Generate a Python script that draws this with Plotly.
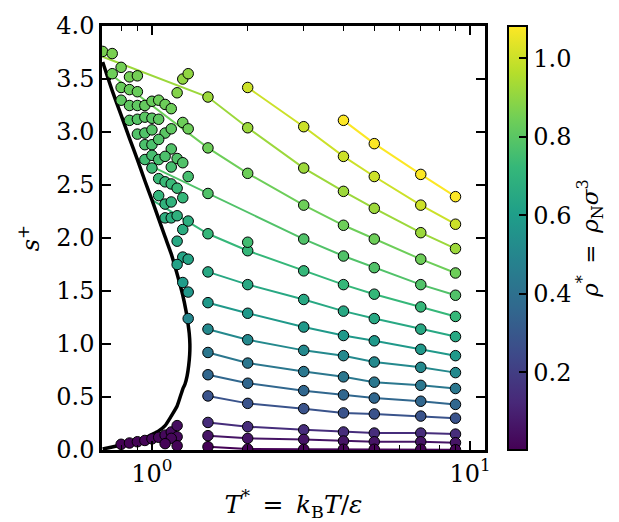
import plotly.graph_objects as go
from plotly.colors import sample_colorscale

# colour range of the density scale
RHO_MIN, RHO_MAX = 0.002, 1.082

# ---- coexistence curve (liquid branch down to the critical nose, then vapour branch)
sat_T = [0.70, 0.75, 0.80, 0.85, 0.90, 0.95, 1.00, 1.05, 1.10, 1.15, 1.20, 1.25, 1.28,
         1.30, 1.31, 1.316, 1.314, 1.305, 1.29, 1.27, 1.25, 1.20, 1.15, 1.10, 1.05,
         1.00, 0.95, 0.90, 0.85, 0.80, 0.75, 0.70]
sat_s = [3.66, 3.39, 3.16, 2.94, 2.74, 2.54, 2.36, 2.18, 2.01, 1.85, 1.66, 1.46, 1.31,
         1.18, 1.10, 1.00, 0.90, 0.80, 0.70, 0.62, 0.575, 0.415, 0.32, 0.23, 0.18,
         0.146, 0.113, 0.09, 0.066, 0.047, 0.028, 0.009]

# ---- isochores at supercritical temperatures
iso_rho = [1.08, 1.0, 0.92, 0.84, 0.78, 0.72, 0.65, 0.58, 0.51, 0.43, 0.36, 0.28, 0.14, 0.06, 0.005]
iso_T = [
    [4, 5, 7, 9],
    [2, 3, 4, 5, 7, 9],
    [1.5, 2, 3, 4, 5, 7, 9],
    [1.5, 2, 3, 4, 5, 7, 9],
    [1.5, 3, 4, 5, 7, 9],
    [1.5, 2, 3, 4, 5, 7, 9],
    [1.5, 2, 3, 4, 5, 7, 9],
    [1.5, 2, 3, 4, 5, 7, 9],
    [1.5, 2, 3, 4, 5, 7, 9],
    [1.5, 2, 3, 4, 5, 7, 9],
    [1.5, 2, 3, 4, 5, 7, 9],
    [1.5, 2, 3, 4, 5, 7, 9],
    [1.5, 2, 3, 4, 5, 7, 9],
    [1.5, 2, 3, 4, 5, 7, 9],
    [1.5, 2, 3, 4, 5, 7, 9],
]
iso_s = [
    [3.11, 2.89, 2.60, 2.39],
    [3.42, 3.05, 2.77, 2.58, 2.31, 2.13],
    [3.33, 3.04, 2.66, 2.44, 2.28, 2.05, 1.90],
    [2.85, 2.61, 2.31, 2.12, 1.99, 1.80, 1.67],
    [2.42, 1.99, 1.83, 1.72, 1.56, 1.46],
    [2.04, 1.88, 1.69, 1.56, 1.47, 1.35, 1.26],
    [1.68, 1.56, 1.42, 1.31, 1.24, 1.14, 1.07],
    [1.39, 1.29, 1.16, 1.08, 1.03, 0.95, 0.89],
    [1.14, 1.04, 0.94, 0.89, 0.83, 0.78, 0.73],
    [0.92, 0.82, 0.74, 0.69, 0.64, 0.61, 0.58],
    [0.71, 0.63, 0.56, 0.52, 0.49, 0.46, 0.43],
    [0.51, 0.44, 0.39, 0.35, 0.34, 0.32, 0.30],
    [0.26, 0.22, 0.19, 0.17, 0.16, 0.16, 0.15],
    [0.135, 0.11, 0.10, 0.085, 0.078, 0.078, 0.069],
    [0.031, 0.009, 0.007, 0.007, 0.007, 0.007, 0.003],
]
# where the liquid isochores leave the coexistence curve (None: curve starts at first point)
iso_T0 = [None, None, 0.70, 0.745, 0.90, 1.00, None, None, None, None, None, None, None, None, None]
iso_s0 = [None, None, 3.71, 3.54, 2.74, 2.36, None, None, None, None, None, None, None, None, None]

# ---- extra state points near the liquid branch
liq_T = [0.70, 0.75, 0.80, 0.75, 0.85, 0.90, 1.25, 1.30, 1.20, 0.80, 0.85, 0.90, 0.80, 0.85,
         0.90, 0.95, 1.00, 1.05, 1.10, 1.15, 0.85, 0.90, 0.95, 1.00, 1.05, 1.10, 1.15, 1.25,
         1.30, 0.90, 0.95, 1.00, 0.95, 1.00, 1.05, 1.15, 0.95, 1.00, 1.05, 1.10, 1.15, 1.20,
         1.25, 1.00, 1.05, 1.10, 1.15, 1.20, 1.30, 1.05, 1.10, 1.15, 1.25, 1.10, 1.15, 1.20,
         1.25, 1.30, 1.20, 1.25, 1.30, 1.20, 1.25, 1.30, 1.30, 2.0]
liq_s = [3.76, 3.74, 3.61, 3.55, 3.52, 3.53, 3.50, 3.55, 3.37, 3.42, 3.40, 3.38, 3.30, 3.25,
         3.25, 3.25, 3.29, 3.30, 3.26, 3.22, 3.11, 3.12, 3.14, 3.13, 3.12, 2.99, 3.03, 3.09,
         3.03, 2.98, 2.99, 3.02, 2.88, 2.88, 2.93, 2.84, 2.74, 2.78, 2.74, 2.77, 2.67, 2.75,
         2.71, 2.66, 2.56, 2.53, 2.51, 2.47, 2.58, 2.40, 2.32, 2.34, 2.38, 2.19, 2.19, 2.21,
         2.08, 2.16, 1.97, 1.82, 1.80, 1.75, 1.58, 1.49, 1.24, 1.96]
liq_rho = [0.86, 0.86, 0.85, 0.84, 0.85, 0.85, 0.90, 0.90, 0.88, 0.83, 0.83, 0.83, 0.81, 0.81,
           0.81, 0.82, 0.83, 0.84, 0.84, 0.84, 0.79, 0.79, 0.80, 0.80, 0.81, 0.80, 0.81, 0.84,
           0.84, 0.78, 0.78, 0.79, 0.77, 0.77, 0.78, 0.78, 0.75, 0.76, 0.76, 0.77, 0.76, 0.78,
           0.78, 0.74, 0.73, 0.73, 0.73, 0.73, 0.76, 0.71, 0.70, 0.70, 0.72, 0.68, 0.68, 0.69,
           0.67, 0.68, 0.65, 0.63, 0.63, 0.62, 0.59, 0.57, 0.50, 0.75]

# ---- state points along the vapour branch
vap_T = [0.80, 0.85, 0.90, 0.95, 1.00, 1.05, 1.10, 1.15, 1.20, 1.20, 1.15, 1.20, 1.10]
vap_s = [0.054, 0.066, 0.078, 0.09, 0.105, 0.12, 0.14, 0.17, 0.23, 0.125, 0.11, 0.04, 0.06]
vap_rho = [0.006, 0.008, 0.01, 0.012, 0.015, 0.02, 0.025, 0.03, 0.04, 0.025, 0.02, 0.008, 0.01]


def rho_color(r):
    return sample_colorscale("Viridis", [(r - RHO_MIN) / (RHO_MAX - RHO_MIN)])[0]


fig = go.Figure()

# isochore curves
for k in range(len(iso_rho)):
    xs = list(iso_T[k])
    ys = list(iso_s[k])
    if iso_T0[k] is not None:
        xs = [iso_T0[k]] + xs
        ys = [iso_s0[k]] + ys
    fig.add_trace(go.Scatter(x=xs, y=ys, mode="lines",
                             line=dict(color=rho_color(iso_rho[k]), width=2),
                             hoverinfo="skip", showlegend=False))

# coexistence curve
fig.add_trace(go.Scatter(x=sat_T, y=sat_s, mode="lines",
                         line=dict(color="black", width=3.5, shape="spline", smoothing=0.5),
                         hoverinfo="skip", showlegend=False))

# all simulated state points, coloured by density
pt_T, pt_s, pt_rho = [], [], []
for k in range(len(iso_rho)):
    pt_T += iso_T[k]
    pt_s += iso_s[k]
    pt_rho += [iso_rho[k]] * len(iso_T[k])
pt_T += liq_T + vap_T
pt_s += liq_s + vap_s
pt_rho += liq_rho + vap_rho

fig.add_trace(go.Scatter(
    x=pt_T, y=pt_s, mode="markers", showlegend=False,
    marker=dict(size=10.5, color=pt_rho, coloraxis="coloraxis",
                line=dict(color="black", width=1)),
))

FONT = "DejaVu Serif"
TICK = dict(family=FONT, size=24, color="black")
SP = "\u2002"  # en space around the equals sign
fig.update_layout(
    width=619, height=522,
    margin=dict(l=102, r=134, t=26, b=72, autoexpand=False),
    paper_bgcolor="white", plot_bgcolor="white",
    font=dict(family=FONT, size=24, color="black"),
    coloraxis=dict(
        colorscale="Viridis", cmin=RHO_MIN, cmax=RHO_MAX,
        colorbar=dict(
            x=1.06, xanchor="left", y=0.5, yanchor="middle",
            lenmode="pixels", len=424, thickness=19, xpad=0, ypad=0,
            outlinewidth=2, outlinecolor="black",
            tickvals=[0.2, 0.4, 0.6, 0.8, 1.0], ticktext=["0.2", "0.4", "0.6", "0.8", "1.0"],
            ticks="inside", ticklen=9, tickwidth=2, tickcolor="black",
            tickfont=TICK,
            title=dict(text="<i>ρ</i><sup>*</sup>" + SP + "=" + SP +
                            "<i>ρ</i><sub>N</sub><i>σ</i><sup>3</sup>",
                       side="right", font=dict(family=FONT, size=23)),
        ),
    ),
    xaxis=dict(
        type="log", range=[-0.157, 1.047], automargin=False,
        tickvals=[1, 10], ticktext=["10<sup>0</sup>", "10<sup>1</sup>"], tickfont=TICK,
        ticks="inside", ticklen=9, tickwidth=1.5, tickcolor="black",
        minor=dict(tickvals=[0.7, 0.8, 0.9, 2, 3, 4, 5, 6, 7, 8, 9],
                   ticks="inside", ticklen=5, tickwidth=1, tickcolor="black"),
        showline=True, linewidth=2.5, linecolor="black", mirror="allticks",
        showgrid=False, zeroline=False,
        title=dict(text="<i>T</i><sup>*</sup>" + SP + "=" + SP +
                        "<i>k</i><sub>B</sub><i>T</i>/<i>ε</i>",
                   standoff=16, font=dict(family=FONT, size=25)),
    ),
    yaxis=dict(
        range=[0, 4], automargin=False, tickvals=[0, 0.5, 1, 1.5, 2, 2.5, 3, 3.5, 4],
        ticktext=["0.0", "0.5", "1.0", "1.5", "2.0", "2.5", "3.0", "3.5", "4.0"],
        tickfont=TICK,
        ticks="inside", ticklen=9, tickwidth=1.5, tickcolor="black",
        showline=True, linewidth=2.5, linecolor="black", mirror="allticks",
        showgrid=False, zeroline=False,
        title=dict(text="<i>s</i><sup>+</sup>", standoff=10, font=dict(family=FONT, size=24)),
    ),
)

fig.write_html("out.html")
